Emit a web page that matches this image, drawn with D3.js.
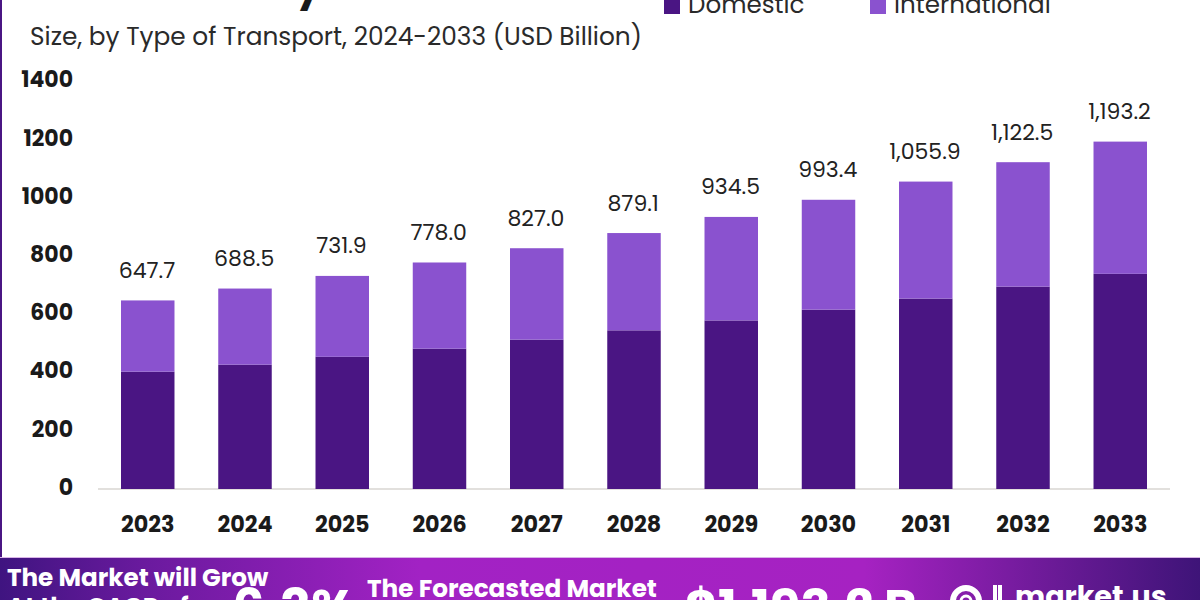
<!DOCTYPE html>
<html><head><meta charset="utf-8">
<script src="https://cdnjs.cloudflare.com/ajax/libs/d3/7.8.5/d3.min.js"></script>
<style>html,body{margin:0;padding:0;background:#fff}svg{display:block}</style>
</head><body><svg id="c" width="1200" height="600"></svg>
<script>
const years=["2023","2024","2025","2026","2027","2028","2029","2030","2031","2032","2033"];
const totals=[647.7,688.5,731.9,778.0,827.0,879.1,934.5,993.4,1055.9,1122.5,1193.2];
const totalLabels=["647.7","688.5","731.9","778.0","827.0","879.1","934.5","993.4","1,055.9","1,122.5","1,193.2"];
const domestic=[403,427,454,482,513,545,579,616,654,695,739];
const seriesNames=["Domestic","International"];
const seriesColors=["#4a1583","#8a52cf"];
const yTicks=[0,200,400,600,800,1000,1200,1400];

const font="Poppins, 'Open Sans', sans-serif";
const svg=d3.select("#c");
const defs=svg.append("defs");
const g=defs.append("linearGradient").attr("id","band");
[[0,"#3f1480"],[0.12,"#6a1a9e"],[0.35,"#a222c4"],[0.72,"#a622c2"],[0.88,"#6a1a96"],[1,"#3e1478"]]
 .forEach(d=>g.append("stop").attr("offset",d[0]).attr("stop-color",d[1]));

svg.append("rect").attr("width",2).attr("height",557).attr("fill","#4a1583");
svg.append("rect").attr("y",557).attr("width",1200).attr("height",43).attr("fill","url(#band)");
svg.append("rect").attr("y",557).attr("width",1200).attr("height",1).attr("fill","#d9b4e8");

const x=d3.scaleBand().domain(years).range([121,1147]).paddingInner(0.45).paddingOuter(0);
const y=d3.scaleLinear().domain([0,1400]).range([489,81.4]);

// axes
const ax=svg.append("g").attr("transform","translate(0,489)")
 .call(d3.axisBottom(x).tickSize(0).tickPadding(27));
ax.select(".domain").attr("d","M98,0H1170").attr("stroke","#d9d6d2").attr("stroke-width",1.5);
ax.selectAll("text").attr("font-family",font).attr("font-size",22.3).attr("font-weight",700).attr("fill","#1a1a1a");

const ay=svg.append("g").attr("transform","translate(73,-1.6)")
 .call(d3.axisLeft(y).tickValues(yTicks).tickFormat(d=>String(d)).tickSize(0).tickPadding(0));
ay.select(".domain").remove();
ay.selectAll("text").attr("font-family",font).attr("font-size",22).attr("font-weight",700).attr("fill","#1a1a1a");

// bars
const data=years.map((yr,i)=>({yr,total:totals[i],label:totalLabels[i],dom:domestic[i]}));
svg.selectAll(".d").data(data).join("rect").attr("x",d=>x(d.yr)).attr("width",x.bandwidth())
 .attr("y",d=>y(d.dom)).attr("height",d=>y(0)-y(d.dom)).attr("fill",seriesColors[0]);
svg.selectAll(".i").data(data).join("rect").attr("x",d=>x(d.yr)).attr("width",x.bandwidth())
 .attr("y",d=>y(d.total)).attr("height",d=>y(d.dom)-y(d.total)).attr("fill",seriesColors[1]);
svg.selectAll(".t").data(data).join("text").attr("x",d=>x(d.yr)+x.bandwidth()/2-0.8).attr("y",d=>y(d.total)-22.5)
 .attr("text-anchor","middle").attr("font-family",font).attr("font-size",22).attr("fill","#222").text(d=>d.label);

// title: only the descender of its "y" is legible in the crop
svg.append("text").attr("x",296).attr("y",0).attr("font-family",font).attr("font-size",40).attr("font-weight",700).attr("fill","#1a1a1a").text("y");

// subtitle
svg.append("text").attr("x",30).attr("y",45).attr("font-family",font).attr("font-size",24.8).attr("fill","#2a2a2a")
 .text("Size, by Type of Transport, 2024-2033 (USD Billion)");

// legend
const legendX=[664,870];
seriesNames.forEach((n,i)=>{
 svg.append("rect").attr("x",legendX[i]).attr("y",-2).attr("width",16).attr("height",16).attr("fill",seriesColors[i]);
 svg.append("text").attr("x",legendX[i]+24).attr("y",13).attr("font-family",font).attr("font-size",24.6).attr("fill","#2a2a2a").text(n);
});

// footer
const ft=(t,px,py,s)=>svg.append("text").attr("x",px).attr("y",py).attr("font-family",font).attr("font-size",s).attr("font-weight",700).attr("fill","#fff").text(t);
ft("The Market will Grow",7,586,24.6);
ft("At the CAGR of",7,615,24.6);
ft("6.3%",232,627,52);
ft("The Forecasted Market",367,597,24.7);
ft("$1,193.2 B",685,625,50);
ft("market.us",1015,606,28.5);
// market.us logo
const logo=svg.append("g").attr("fill","none").attr("stroke","#fff");
logo.append("circle").attr("cx",966).attr("cy",601).attr("r",13).attr("stroke-width",6);
logo.append("circle").attr("cx",966).attr("cy",601).attr("r",5).attr("stroke-width",3);
logo.append("path").attr("d","M995,585V600M1000,585V600").attr("stroke-width",4);
</script></body></html>
